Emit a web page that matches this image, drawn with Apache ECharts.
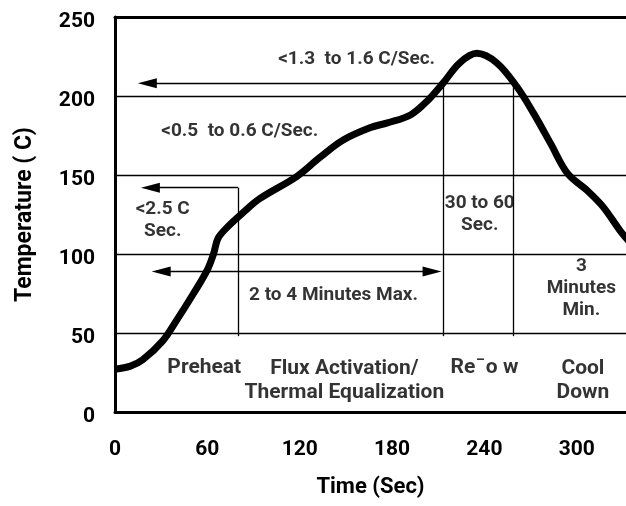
<!DOCTYPE html>
<html>
<head>
<meta charset="utf-8">
<script src="https://cdn.jsdelivr.net/npm/echarts@6/dist/echarts.min.js"></script>
<style>html,body{margin:0;padding:0;background:#fff}#c{width:626px;height:506px}</style>
</head>
<body>
<div id="c"></div>
<script>
// Reflow profile: time (s) and temperature (C)
const timeSec = [0, 10, 18, 31, 40, 51, 60, 64, 67, 73, 83, 94, 118, 133, 148, 166, 177, 192, 203, 213, 224, 235, 248, 261, 272, 283, 294, 307, 317, 328, 334];
const tempC   = [27, 29, 33, 45, 58, 75, 90, 100, 110, 117, 126, 135, 149, 161, 172, 180, 183, 188, 197, 208, 221, 227, 221, 206, 189, 170, 151, 140, 130, 115, 108];

const yTicks = [0, 50, 100, 150, 200, 250];
const xTicks = [0, 60, 120, 180, 240, 300];

// Annotation lines: [x1, y1, x2, y2, arrowAtStart, arrowAtEnd]
const annoLines = [
  [21, 208, 259, 208, true, false],
  [23, 142, 80, 142, true, false],
  [80, 142, 80, 48, false, false],
  [30, 89, 206, 89, true, true],
  [213, 208, 213, 48, false, false],
  [259, 208, 259, 48, false, false]
];

// Small annotation texts
const noteText = ['<1.3  to 1.6 C/Sec.', '<0.5  to 0.6 C/Sec.', '<2.5 C\nSec.', '2 to 4 Minutes Max.', '30 to 60\nSec.', '3\nMinutes\nMin.'];
const noteX = [157, 81, 31, 142, 237, 303];
const noteY = [223, 178, 121.5, 74, 125, 78.5];

// Phase labels
const phaseText = ['Preheat', 'Flux Activation/\nThermal Equalization', 'Re\u00AFo w', 'Cool\nDown'];
const phaseX = [58, 149, 240, 304];
const phaseY = [28, 20, 28, 20];

const FONT = "Roboto, 'Liberation Sans', sans-serif";

const chart = echarts.init(document.getElementById('c'));
const lineData = timeSec.map((t, i) => [t, tempC[i]]);
const markData = annoLines.map(a => [
  {coord: [a[0], a[1]], symbol: a[4] ? 'triangle' : 'none', symbolSize: [10, 19]},
  {coord: [a[2], a[3]], symbol: a[5] ? 'triangle' : 'none', symbolSize: [10, 19]}
]);
const noteData = noteText.map((s, i) => ({name: s, value: [noteX[i], noteY[i]]}));
const phaseData = phaseText.map((s, i) => ({name: s, value: [phaseX[i], phaseY[i]]}));

chart.setOption({
  animation: false,
  backgroundColor: '#fff',
  grid: {left: 115, right: 0, top: 17, bottom: 94, containLabel: false},
  xAxis: [{
    type: 'value', min: 0, max: 332, interval: 60,
    name: 'Time (Sec)', nameLocation: 'middle', nameGap: 64,
    nameTextStyle: {fontFamily: FONT, fontSize: 22, fontWeight: 'bold', color: '#000'},
    axisLine: {show: true, lineStyle: {color: '#000', width: 3}},
    axisTick: {show: false},
    splitLine: {show: false},
    axisLabel: {
      fontFamily: FONT, fontSize: 21, fontWeight: 'bold', color: '#000', margin: 27,
      showMaxLabel: false,
      formatter: v => xTicks.indexOf(v) >= 0 ? String(v) : ''
    }
  }, {
    type: 'value', min: 0, max: 332, position: 'top',
    axisLine: {show: true, onZero: false, lineStyle: {color: '#000', width: 3}},
    axisTick: {show: false}, axisLabel: {show: false}, splitLine: {show: false}
  }],
  yAxis: {
    type: 'value', min: 0, max: 250, interval: 50,
    name: 'Temperature ( C)', nameLocation: 'middle', nameGap: 78,
    nameTextStyle: {fontFamily: FONT, fontSize: 23, fontWeight: 'bold', color: '#000'},
    axisLine: {show: true, lineStyle: {color: '#000', width: 3}},
    axisTick: {show: false},
    splitLine: {show: true, lineStyle: {color: '#000', width: 1.3}},
    axisLabel: {
      fontFamily: FONT, fontSize: 21, fontWeight: 'bold', color: '#000', margin: 20,
      verticalAlign: 'top', lineHeight: 10,
      formatter: v => yTicks.indexOf(v) >= 0 ? String(v) : ''
    }
  },
  series: [{
    type: 'line', data: lineData, smooth: 0.35, symbol: 'none', clip: true,
    lineStyle: {color: '#000', width: 7},
    z: 5,
    markLine: {
      silent: true, animation: false,
      label: {show: false},
      lineStyle: {color: '#000', width: 1.3, type: 'solid'},
      emphasis: {disabled: true},
      data: markData,
      z: 3
    }
  }, {
    type: 'scatter', data: noteData, symbolSize: 0, silent: true, z: 6,
    label: {show: true, position: 'inside', formatter: '{b}', color: '#000',
      fontFamily: FONT, fontSize: 19, fontWeight: 'bold', lineHeight: 22, align: 'center', verticalAlign: 'middle'}
  }, {
    type: 'scatter', data: phaseData, symbolSize: 0, silent: true, z: 6,
    label: {show: true, position: 'inside', formatter: '{b}', color: '#000',
      fontFamily: FONT, fontSize: 21, fontWeight: 'bold', lineHeight: 24, align: 'center', verticalAlign: 'middle'}
  }]
});
</script>
</body>
</html>
